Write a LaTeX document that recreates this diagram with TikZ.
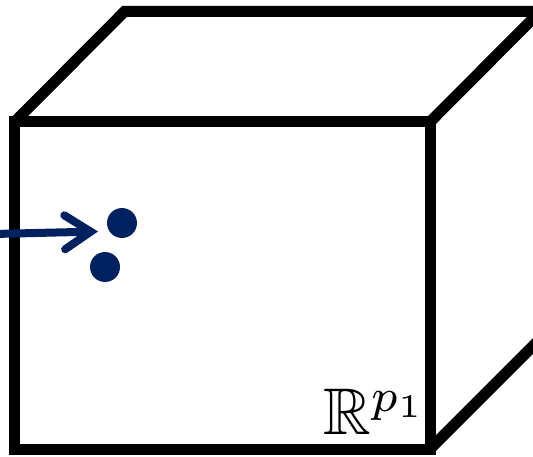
\documentclass[tikz,border=0pt]{standalone}
\usepackage{amssymb}
\usetikzlibrary{arrows.meta}
\definecolor{navy}{RGB}{0,33,96}
\tikzset{
  edge/.style={line width=11pt, line join=miter, draw=black},
  pointer/.style={draw=navy, line width=8pt, line cap=round,
    -{Straight Barb[length=26pt, width=34pt, line cap=round]}},
  dot/.style={circle, fill=navy, inner sep=0pt, minimum size=30pt},
}
\begin{document}
\begin{tikzpicture}[x=1pt, y=1pt]
  \useasboundingbox (0,0) rectangle (533,456);
  \clip (0,0) rectangle (533,456);
  % corners of the box
  \coordinate (fbl) at (14.5,7);
  \coordinate (fbr) at (430,7);
  \coordinate (ftr) at (430,334);
  \coordinate (ftl) at (14.5,334);
  \coordinate (btl) at (124.5,444.5);
  \coordinate (btr) at (540,444.5);
  \coordinate (bbr) at (540,117);
  % front face
  \draw[edge] (fbl) -- (fbr) -- (ftr) -- (ftl) -- cycle;
  % top face
  \draw[edge] (ftl) -- (btl) -- (btr) -- (ftr);
  % right face
  \draw[edge] (btr) -- (bbr) -- (fbr);
  % points and incoming arrow
  \node[dot] (p) at (122,233) {};
  \node[dot] (q) at (105,189) {};
  \coordinate (src) at (-6,222);
  \coordinate (tip) at (98,224.5);
  \draw[pointer] (src) -- (tip);
  % space label
  \node[anchor=base west, inner sep=0pt, scale=6.6]
    (lab) at (322,21) {$\mathbb{R}^{p_1}$};
\end{tikzpicture}
\end{document}
